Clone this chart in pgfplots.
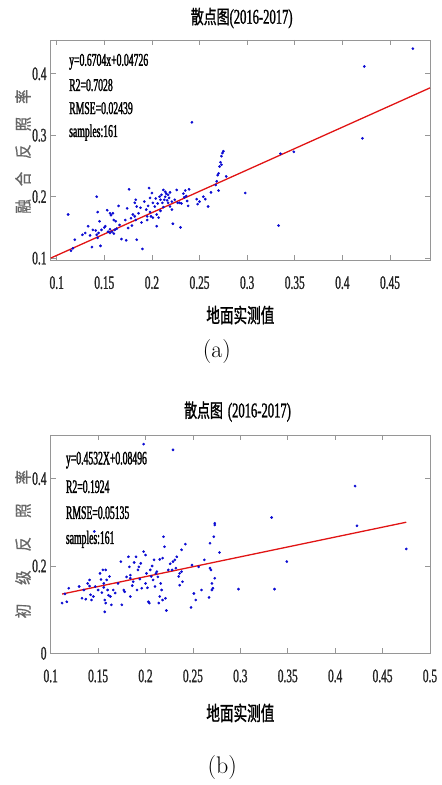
\documentclass[border=0pt]{standalone}
\usepackage{pgfplots}
\pgfplotsset{compat=1.18}
\usepackage{fontspec}
\newfontfamily\condfont{Liberation Serif}[FakeStretch=0.6,FakeBold=1.2]
\newfontfamily\condtxt{Liberation Serif}[FakeStretch=0.54,FakeBold=1.4]
\newfontfamily\condtxtb{Liberation Serif}[FakeStretch=0.51,FakeBold=1.4]
\newfontfamily\cjk{Noto Sans CJK SC}[FakeStretch=0.68,FakeBold=1.2]
\newfontfamily\cjky{Noto Sans CJK SC}[FakeStretch=0.85,FakeBold=0.8]
\definecolor{ptblue}{RGB}{10,10,210}
\definecolor{fitred}{RGB}{225,20,20}
\definecolor{frame}{RGB}{150,150,150}
\pgfplotsset{
  myax/.style={
    anchor=south west, scale only axis, width=379.3pt,
    axis line style={frame, line width=0.8pt},
    tick style={frame, line width=0.8pt},
    major tick length=5pt,
    tick align=inside,
    /pgf/number format/assume math mode=true,
    tick label style={font=\condfont\fontsize{19}{19}\selectfont, text=black!85},
    every x tick label/.append style={inner sep=0pt},
    every y tick label/.append style={inner sep=0pt},
    xticklabel shift=16pt,
    yticklabel shift=4pt,
    clip=false,
  }
}
\begin{document}
\begin{tikzpicture}
\useasboundingbox (0pt,0pt) rectangle (442pt,785pt);
% ---------------- panel (a)
\begin{axis}[myax,
  at={(50.7pt,525pt)}, height=220pt,
  xmin=0.0937, xmax=0.492, ymin=0.097, ymax=0.455,
  xtick={0.1,0.15,0.2,0.25,0.3,0.35,0.4,0.45},
  xticklabels={0.1,0.15,0.2,0.25,0.3,0.35,0.4,0.45},
  ytick={0.1,0.2,0.3,0.4},
  yticklabels={0.1,0.2,0.3,0.4},
]
\addplot[only marks, mark=*, mark size=1.15pt, ptblue] coordinates {
(0.112,0.171) (0.115,0.112) (0.117,0.116) (0.119,0.130) (0.130,0.141) (0.133,0.152)
(0.137,0.118) (0.138,0.146) (0.142,0.200) (0.142,0.138) (0.143,0.133) (0.144,0.141)
(0.143,0.175) (0.145,0.160) (0.146,0.120) (0.147,0.146) (0.151,0.152) (0.153,0.178)
(0.154,0.143) (0.156,0.141) (0.156,0.147) (0.158,0.143) (0.156,0.173) (0.157,0.170)
(0.159,0.173) (0.160,0.162) (0.161,0.146) (0.163,0.148) (0.162,0.160) (0.165,0.185)
(0.168,0.131) (0.172,0.162) (0.173,0.129) (0.174,0.181) (0.175,0.149) (0.176,0.212)
(0.178,0.165) (0.180,0.171) (0.182,0.190) (0.183,0.195) (0.184,0.184) (0.182,0.168)
(0.183,0.162) (0.184,0.130) (0.186,0.173) (0.189,0.158) (0.190,0.115) (0.192,0.192)
(0.194,0.179) (0.195,0.168) (0.195,0.162) (0.197,0.214) (0.198,0.198) (0.200,0.206)
(0.199,0.168) (0.201,0.166) (0.201,0.190) (0.203,0.184) (0.205,0.152) (0.205,0.171)
(0.207,0.166) (0.208,0.200) (0.209,0.195) (0.210,0.203) (0.211,0.190) (0.212,0.211)
(0.213,0.195) (0.214,0.200) (0.215,0.205) (0.216,0.194) (0.217,0.190) (0.217,0.203)
(0.218,0.198) (0.219,0.184) (0.221,0.179) (0.221,0.192) (0.222,0.156) (0.224,0.195)
(0.226,0.211) (0.229,0.190) (0.231,0.189) (0.230,0.150) (0.234,0.199) (0.235,0.210)
(0.236,0.201) (0.237,0.193) (0.238,0.185) (0.239,0.212) (0.242,0.321) (0.247,0.196)
(0.248,0.188) (0.250,0.192) (0.254,0.200) (0.256,0.196) (0.259,0.184) (0.262,0.207)
(0.267,0.219) (0.268,0.225) (0.269,0.235) (0.270,0.210) (0.270,0.238) (0.271,0.249)
(0.272,0.256) (0.273,0.266) (0.274,0.271) (0.275,0.274) (0.273,0.252) (0.278,0.233)
(0.298,0.206) (0.333,0.153) (0.335,0.270) (0.349,0.273) (0.421,0.295) (0.423,0.412)
(0.474,0.441)
(0.196,0.185) (0.204,0.197) (0.206,0.189) (0.212,0.183) (0.214,0.208) (0.219,0.207)
(0.209,0.177) (0.188,0.182) (0.179,0.153) (0.166,0.154) (0.150,0.150) (0.160,0.140)
(0.141,0.145) (0.135,0.137) (0.127,0.138) (0.198,0.175) (0.227,0.190) (0.233,0.205)
};
\addplot[fitred, line width=1.3pt] coordinates {(0.0937,0.10008) (0.492,0.37710)};
\node[anchor=west] at (axis description cs:0.0395,0.901) {\condtxt\fontsize{18}{18}\selectfont y=0.6704x+0.04726};
\node[anchor=west] at (axis description cs:0.0395,0.795) {\condtxt\fontsize{18}{18}\selectfont R2=0.7028};
\node[anchor=west] at (axis description cs:0.0395,0.690) {\condtxt\fontsize{18}{18}\selectfont RMSE=0.02439};
\node[anchor=west] at (axis description cs:0.0395,0.579) {\condtxt\fontsize{18}{18}\selectfont samples:161};
\node at (axis description cs:0.5036,1.10) {\cjk\fontsize{19}{19}\selectfont 散点图\condfont\fontsize{21}{21}\selectfont(2016-2017)};
\node at (axis description cs:0.50,-0.25) {\cjk\fontsize{20}{20}\selectfont 地面实测值};
\node[rotate=90, text=black!60] at (axis description cs:-0.073,0.493) {\cjky\fontsize{17}{17}\selectfont 融\hspace{13pt}合\hspace{13pt}反\hspace{13pt}照\hspace{13pt}率};
\node at (axis description cs:0.438,-0.418) {\fontsize{24}{24}\selectfont (a)};
\end{axis}
% ---------------- panel (b)
\begin{axis}[myax,
  at={(50.7pt,131.7pt)}, height=218.3pt,
  xmin=0.1, xmax=0.5, ymin=0, ymax=0.5,
  xtick={0.1,0.15,0.2,0.25,0.3,0.35,0.4,0.45,0.5},
  xticklabels={0.1,0.15,0.2,0.25,0.3,0.35,0.4,0.45,0.5},
  ytick={0,0.2,0.4},
  yticklabels={0,0.2,0.4},
]
\addplot[only marks, mark=*, mark size=1.15pt, ptblue] coordinates {
(0.112,0.115) (0.115,0.136) (0.117,0.118) (0.119,0.149) (0.130,0.153) (0.133,0.126)
(0.135,0.145) (0.137,0.124) (0.139,0.160) (0.141,0.168) (0.141,0.154) (0.142,0.134)
(0.143,0.122) (0.147,0.153) (0.146,0.279) (0.152,0.183) (0.153,0.169) (0.154,0.139)
(0.155,0.191) (0.156,0.160) (0.156,0.151) (0.157,0.095) (0.157,0.122) (0.158,0.115)
(0.158,0.191) (0.159,0.168) (0.160,0.145) (0.163,0.130) (0.164,0.111) (0.166,0.145)
(0.171,0.160) (0.174,0.210) (0.175,0.111) (0.177,0.145) (0.178,0.141) (0.182,0.221)
(0.183,0.198) (0.184,0.179) (0.184,0.172) (0.184,0.130) (0.187,0.164) (0.190,0.221)
(0.191,0.145) (0.192,0.191) (0.193,0.198) (0.195,0.206) (0.196,0.149) (0.198,0.479)
(0.198,0.233) (0.200,0.225) (0.200,0.160) (0.201,0.183) (0.203,0.118) (0.204,0.115)
(0.205,0.191) (0.206,0.176) (0.208,0.168) (0.209,0.214) (0.210,0.153) (0.211,0.183)
(0.212,0.187) (0.214,0.115) (0.215,0.130) (0.215,0.215) (0.216,0.160) (0.217,0.145)
(0.218,0.122) (0.218,0.218) (0.219,0.267) (0.220,0.244) (0.221,0.126) (0.222,0.098)
(0.224,0.191) (0.228,0.191) (0.229,0.466) (0.229,0.210) (0.231,0.214) (0.233,0.221)
(0.235,0.176) (0.236,0.156) (0.236,0.183) (0.238,0.187) (0.238,0.237) (0.239,0.164)
(0.242,0.250) (0.248,0.105) (0.249,0.202) (0.251,0.137) (0.253,0.122) (0.256,0.198)
(0.259,0.145) (0.262,0.214) (0.267,0.128) (0.268,0.252) (0.268,0.195) (0.269,0.191)
(0.270,0.160) (0.270,0.145) (0.271,0.149) (0.272,0.267) (0.273,0.298) (0.273,0.294)
(0.273,0.172) (0.278,0.231) (0.298,0.147) (0.333,0.311) (0.336,0.147) (0.349,0.210)
(0.421,0.383) (0.423,0.292) (0.475,0.239)
(0.150,0.145) (0.161,0.133) (0.168,0.138) (0.180,0.175) (0.186,0.155) (0.194,0.170)
(0.202,0.150) (0.207,0.200) (0.213,0.175) (0.226,0.205) (0.232,0.195) (0.145,0.130)
(0.162,0.176) (0.188,0.208)
};
\addplot[fitred, line width=1.3pt] coordinates {(0.112,0.13572) (0.475,0.30023)};
\node[anchor=west] at (axis description cs:0.031,0.885) {\condtxtb\fontsize{19}{19}\selectfont y=0.4532X+0.08496};
\node[anchor=west] at (axis description cs:0.031,0.763) {\condtxtb\fontsize{19}{19}\selectfont R2=0.1924};
\node[anchor=west] at (axis description cs:0.031,0.644) {\condtxtb\fontsize{19}{19}\selectfont RMSE=0.05135};
\node[anchor=west] at (axis description cs:0.031,0.522) {\condtxtb\fontsize{19}{19}\selectfont samples:161};
\node at (axis description cs:0.4926,1.107) {\cjk\fontsize{19}{19}\selectfont 散点图\hspace{5pt}\condfont\fontsize{21}{21}\selectfont(2016-2017)};
\node at (axis description cs:0.50,-0.273) {\cjk\fontsize{20}{20}\selectfont 地面实测值};
\node[rotate=90, text=black!60] at (axis description cs:-0.073,0.50) {\cjky\fontsize{17}{17}\selectfont 初\hspace{19pt}级\hspace{19pt}反\hspace{19pt}照\hspace{19pt}率};
\node at (axis description cs:0.452,-0.521) {\fontsize{24}{24}\selectfont (b)};
\end{axis}
\end{tikzpicture}
\end{document}
